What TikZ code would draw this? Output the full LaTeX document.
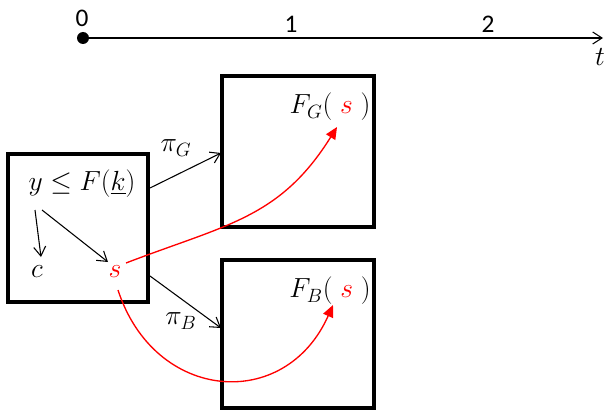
\documentclass[tikz,border=0pt]{standalone}
\usepackage{fontspec}
\newfontfamily\calib{Carlito}
\usetikzlibrary{arrows.meta}
\begin{document}
\begin{tikzpicture}[x=0.75pt,y=-0.75pt,
  lab/.style={font=\fontsize{19}{22}\selectfont\calib,inner sep=0pt},
  mth/.style={font=\fontsize{20}{24}\selectfont,inner sep=1pt},
  big/.style={font=\fontsize{21.5}{26}\selectfont,inner sep=1pt},
  blk/.style={-{Straight Barb[length=7pt,width=9pt]},line width=0.8pt},
  redarr/.style={red,line width=1pt,-{Triangle[length=9pt,width=8pt]}}]
\useasboundingbox (0,0) rectangle (607,410);
% timeline
\node[circle,fill,inner sep=0pt,minimum size=9pt] (t0) at (83,38) {};
\coordinate (tend) at (603,38);
\draw[blk] (t0) -- (tend);
\node[lab] (l0) at (82,18) {0};
\node[lab] (l1) at (291,24) {1};
\node[lab] (l2) at (488,24) {2};
\node[mth] (lt) at (600,57) {$t$};
% boxes
\node[draw,line width=3pt,minimum width=105pt,minimum height=111pt] (L) at (78,227.5) {};
\node[draw,line width=3pt,minimum width=114pt,minimum height=113pt] (G) at (298,151.5) {};
\node[draw,line width=3pt,minimum width=114pt,minimum height=111pt] (B) at (298,334) {};
% texts
\node[big] (ineq) at (82,184) {$y\leq F\bigl(\underline{k}\bigr)$};
\node[big] (c) at (37,272) {$c$};
\node[big,text=red] (s) at (115,272) {$s$};
\node[mth] (FG) at (330,107) {$F_G(\;{\color{red}s}\;)$};
\node[mth] (FB) at (330,291) {$F_B(\;{\color{red}s}\;)$};
\node[mth] (piG) at (176,148) {$\pi_G$};
\node[mth] (piB) at (181,321) {$\pi_B$};
% black arrows
\coordinate (a1s) at (35,210); \coordinate (a1e) at (41,257);
\coordinate (a2s) at (42,210); \coordinate (a2e) at (108,262);
\draw[blk] (a1s) -- (a1e);
\draw[blk] (a2s) -- (a2e);
\coordinate (gs) at (150,188); \coordinate (ge) at (221,153);
\coordinate (bs) at (150,276); \coordinate (be) at (221,328);
\draw[blk] (gs) -- (ge);
\draw[blk] (bs) -- (be);
% red curves
\coordinate (r1s) at (126,263); \coordinate (r1e) at (337,127);
\coordinate (r2s) at (118,290); \coordinate (r2e) at (333,305);
\draw[redarr] (r1s) to[out=21,in=238,looseness=1.1] (r1e);
\draw[redarr] (r2s) to[out=-72,in=246,looseness=1.4] (r2e);
\end{tikzpicture}
\end{document}
